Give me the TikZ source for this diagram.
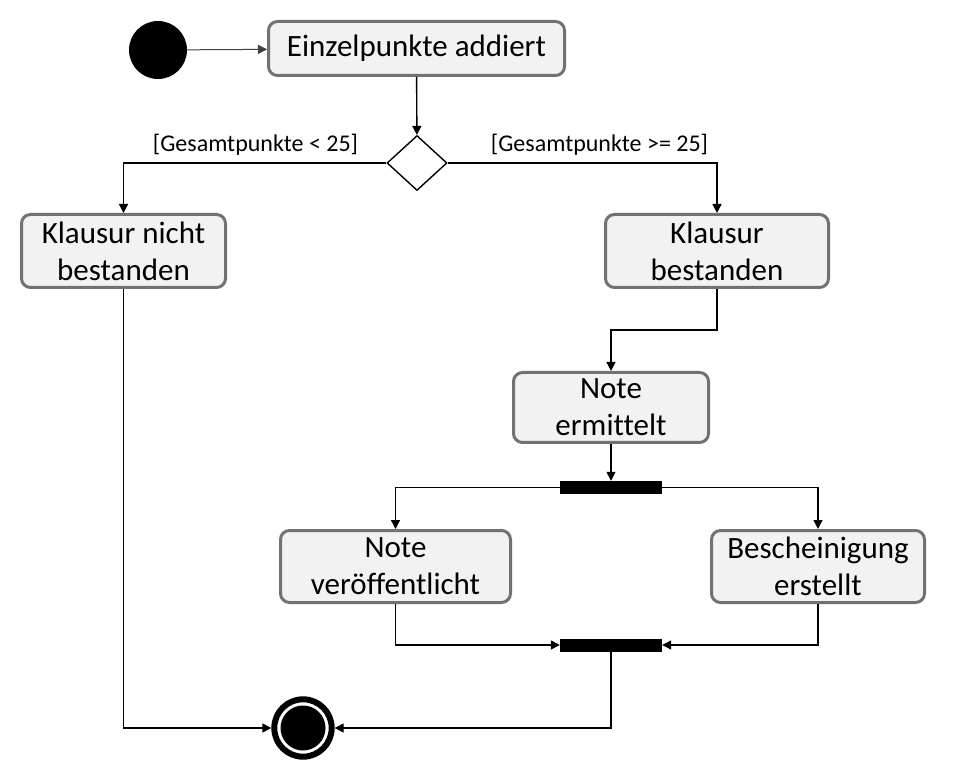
\documentclass[tikz,border=0pt]{standalone}
\usepackage{fontspec}
\setmainfont{Carlito}[Ligatures=NoCommon]
\usetikzlibrary{arrows.meta,shapes.geometric}
\definecolor{rahmen}{HTML}{767171}
\definecolor{flaeche}{HTML}{F2F2F2}
\newcommand{\grossschrift}{\fontsize{31}{37}\selectfont}
\newcommand{\kleinschrift}{\fontsize{24}{29}\selectfont}

\begin{document}
\begin{tikzpicture}[x=1pt,y=-1pt,
 akt/.style={draw=rahmen,fill=flaeche,line width=3pt,rounded corners=9pt,align=center,font=\grossschrift,inner sep=0pt},
 pfeil/.style={line width=1.4pt,-{Triangle[length=9pt,width=9pt]}},
 balken/.style={fill=black,inner sep=0pt,minimum width=102pt,minimum height=13pt}]
\useasboundingbox (0,0) rectangle (967,775);
% Start und erste Aktion
\node[circle,fill=black,minimum size=58pt,inner sep=0pt] (start) at (158,50) {};
\node[akt,minimum width=296pt,minimum height=54pt] (addiert) at (416.5,48.5) {Einzelpunkte addiert};
\node[diamond,draw,fill=white,line width=1.4pt,minimum width=60pt,minimum height=55pt,inner sep=0pt] (raute) at (417,163) {};
\node[font=\kleinschrift] (kleiner) at (255.5,145) {[Gesamtpunkte < 25]};
\node[font=\kleinschrift] (groesser) at (599.5,145) {[Gesamtpunkte >= 25]};
% Aktionen
\node[akt,minimum width=204pt,minimum height=73pt] (nicht) at (123.5,251) {Klausur nicht\\bestanden};
\node[akt,minimum width=223pt,minimum height=73pt] (bestanden) at (717,251) {Klausur\\bestanden};
\node[akt,minimum width=195pt,minimum height=70pt] (ermittelt) at (611,407.5) {Note\\ermittelt};
\node[balken] (gabel) at (611,487.5) {};
\node[akt,minimum width=230pt,minimum height=72pt] (veroeff) at (395.5,566.5) {Note\\veröffentlicht};
\node[akt,minimum width=213pt,minimum height=72pt] (bescheinigung) at (818,566.5) {Bescheinigung\\erstellt};
\node[balken] (vereinigung) at (611,645) {};
% Endknoten
\node[circle,draw=black,fill=white,line width=6pt,minimum size=57.4pt,inner sep=0pt] (ende) at (303,728) {};
\node[circle,fill=black,minimum size=45pt,inner sep=0pt] (endekern) at (ende.center) {};
% Kanten
\draw[pfeil,line width=1pt,draw=black!75] (start) -- (addiert);
\draw[pfeil] (addiert) -- (raute);
\draw[pfeil] (raute.west) -| (nicht.north);
\draw[pfeil] (raute.east) -| (bestanden.north);
\draw[pfeil] (bestanden.south) -- ++(0,41) -| (ermittelt.north);
\draw[pfeil] (ermittelt) -- (gabel);
\draw[pfeil] (gabel.west) -| (veroeff.north);
\draw[pfeil] (gabel.east) -| (bescheinigung.north);
\draw[pfeil] (veroeff.south) |- (vereinigung.west);
\draw[pfeil] (bescheinigung.south) |- (vereinigung.east);
\draw[pfeil] (vereinigung.south) |- (ende.east);
\draw[pfeil] (nicht.south) |- (ende.west);
\end{tikzpicture}
\end{document}
